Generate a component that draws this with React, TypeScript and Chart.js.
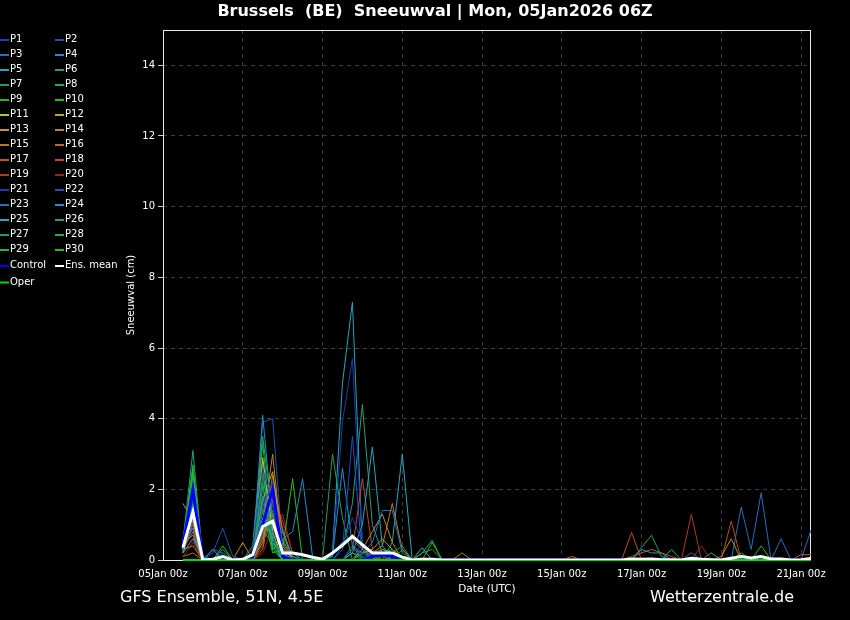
import { useEffect, useRef } from "react";
import { Chart, registerables } from "chart.js";

Chart.register(...registerables);

const TITLE = "Brussels  (BE)  Sneeuwval | Mon, 05Jan2026 06Z";
const FOOT_LEFT = "GFS Ensemble, 51N, 4.5E";
const FOOT_RIGHT = "Wetterzentrale.de";
const X_TITLE = "Date (UTC)";
const Y_TITLE = "Sneeuwval (cm)";

// x positions are 6-hour steps counted from 05Jan 00z; data start at 05Jan 12z
const FIRST_STEP = 2;
const X_MAX = 65;
const Y_MAX = 15;
const xTickSteps = [0, 8, 16, 24, 32, 40, 48, 56, 64];
const xTickLabels = [
  "05Jan 00z", "07Jan 00z", "09Jan 00z", "11Jan 00z", "13Jan 00z",
  "15Jan 00z", "17Jan 00z", "19Jan 00z", "21Jan 00z",
];
const yTickValues = [0, 2, 4, 6, 8, 10, 12, 14];

const P1 = [
  0.5,1.8,0,0,0.2,0,0,0.3,2.6,1.5,0.3,0,0,0,0,0,
  0.4,1.2,0.5,0.1,0.2,0.1,0,0,0,0,0,0,0,0,0,0,
  0,0,0,0,0,0,0,0,0,0,0,0,0,0,0,0,
  0,0,0,0,0,0,0,0,0,0,0,0,0,0,0,0];
const P2 = [
  0.3,1.2,0,0.2,0.9,0.1,0,0,1.5,2.2,0.1,0,0,0,0,0,
  0.3,3.5,0,0.2,0,0,0,0,0,0,0,0,0,0,0,0,
  0,0,0,0,0,0,0,0,0,0,0,0,0,0,0,0,
  0,0,0,0,0,0,0,0,0,0,0,0,0,0,0,0];
const P3 = [
  0.4,0.9,0,0,0,0,0,0,0.8,1.6,0.5,0.2,0,0,0,0,
  0,0.3,0.2,0.5,1.4,1.4,0.2,0,0,0,0,0,0,0,0,0,
  0,0,0,0,0,0,0,0,0,0,0,0,0,0,0,0,
  0,0,0,0.2,0,0,0,0,0,0,0,0,0,0,0,0];
const P4 = [
  0.2,0.6,0.1,0,0,0,0,0.2,4.1,1.0,0.3,0.1,0,0,0,0.1,
  2.6,0.4,0,0,0,0.1,0,0,0,0,0,0,0,0,0,0,
  0,0,0,0,0,0,0,0,0,0,0,0,0,0,0,0,
  0,0,0,0,0,0,0,0,0,0,0,0,0,0,0,0];
const P5 = [
  0.3,1.5,0,0.3,0,0,0,0,1.2,0.6,0.8,0.1,0,0,0,0,
  0,0.2,1.0,3.2,0.4,0.1,0,0,0.35,0,0,0,0,0,0,0,
  0,0,0,0,0,0,0,0,0,0,0,0,0,0,0,0,
  0,0,0,0,0,0,0,0,0,0,0,0,0,0,0,0];
const P6 = [
  0.5,3.1,0,0,0.1,0,0,0,1.8,0.5,0.2,0,0,0,0,0,
  0,0.2,0.1,0,0,0,0,0,0,0,0,0,0,0,0,0,
  0,0,0,0,0,0,0,0,0,0,0,0,0,0,0,0,
  0,0,0,0,0,0,0,0,0,0,0,0,0,0,0,0];
const P7 = [
  0.2,2.1,0,0,0,0,0,0,2.4,0.7,0,0,0,0,0,3.0,
  1.2,0,0,0,0,0,0,0,0,0,0,0,0,0,0,0,
  0,0,0,0,0,0,0,0,0,0,0,0,0,0,0.35,0.7,
  0.1,0,0,0,0,0,0,0,0,0,0,0,0,0,0,0];
const P8 = [
  0.3,1.6,0,0,0,0,0,0.4,3.5,1.2,0.3,0,0,0,0,0,
  0,0,0,0.2,0.3,0.2,0.1,0,0,0,0,0,0,0,0,0,
  0,0,0,0,0,0,0,0,0,0,0,0,0,0,0,0,
  0,0.3,0,0,0,0,0,0,0,0,0,0,0,0,0,0];
const P9 = [
  0.4,2.4,0,0,0.3,0,0,0,2.6,0.3,0,0,0,0,0,0,
  0,0,0,0,0.2,0.3,0.1,0,0.2,0.55,0,0,0,0,0,0,
  0,0,0,0,0,0,0,0,0,0,0,0,0,0,0,0,
  0,0,0,0,0,0,0,0,0.2,0,0.4,0,0,0,0,0];
const P10 = [
  0.3,2.6,0,0,0,0,0,0,1.4,0.2,0.3,2.3,0,0,0,0,
  0,0,0.3,0.1,0,0,0,0,0,0,0,0,0,0,0,0,
  0,0,0,0,0,0,0,0,0,0,0,0,0,0,0,0,
  0,0,0,0,0,0,0,0,0,0,0,0,0,0,0,0];
const P11 = [
  0.2,1.3,0,0,0,0,0,0,2.9,0.8,0,0,0,0,0,0,
  0,0,0,0,0,0,0,0,0,0,0,0,0,0,0,0,
  0,0,0,0,0,0,0,0,0,0,0,0,0,0,0,0,
  0,0,0,0,0,0,0,0,0,0,0,0,0,0,0,0];
const P12 = [
  0.4,0.9,0,0,0.1,0,0,0.1,1.7,2.5,0.2,0,0,0,0,0,
  0,0,0,0.1,0.2,0,0,0,0,0,0,0,0,0,0,0,
  0,0,0,0,0,0,0,0,0,0,0,0,0,0,0,0,
  0,0,0,0,0,0,0,0,0,0,0,0,0,0,0,0];
const P13 = [
  1.6,1.1,0,0,0,0,0,0,0.5,1.9,0.4,0,0,0,0,0,
  0,0,0.2,0.3,0.6,0.3,0,0,0,0,0,0,0,0,0,0,
  0,0,0,0,0,0,0,0,0,0,0,0,0,0,0,0,
  0,0,0,0,0,0,0,0,0,0,0,0,0,0,0,0];
const P14 = [
  0.5,0.7,0,0,0,0,0.5,0,1.0,3.0,0.2,0,0,0,0,0,
  0,0,0.3,0.8,1.3,0.5,0,0,0,0,0,0,0,0,0,0,
  0,0,0,0,0,0,0,0,0,0,0,0,0,0,0,0,
  0,0,0,0,0,0,0.1,0.6,0,0,0,0,0,0,0,0];
const P15 = [
  0.3,0.4,0,0,0,0,0,0,0.6,2.4,0.8,0,0,0,0,0,
  0,0,0,0.2,0.4,1.6,0.3,0,0,0,0,0,0.2,0,0,0,
  0,0,0,0,0,0,0,0,0,0,0,0,0,0,0,0,
  0,0,0,0,0,0,0,0,0,0,0,0,0,0,0,0];
const P16 = [
  0.1,0.2,0,0,0,0,0,0,0.3,1.7,0.5,0,0,0,0,0,
  0,0,0,0,0.3,0.2,0,0,0,0,0,0,0,0,0,0,
  0,0,0,0,0,0,0,0.1,0,0,0,0,0,0,0,0,
  0,0,0,0,0,0,0,0,0,0,0,0,0,0,0,0];
const P17 = [
  0.2,1.0,0,0,0,0,0,0,0.7,1.3,0.3,0,0,0,0,0,
  0,0,0,0,0.2,0.1,0,0,0,0,0,0,0,0,0,0,
  0,0,0,0,0,0,0,0,0,0,0,0,0,0.1,0.2,0.3,
  0.2,0.1,0,0,0,0,0,0,0,0,0,0,0,0,0.15,0.15];
const P18 = [
  0.3,0.8,0,0,0,0,0,0,1.1,2.2,0.9,0,0,0,0,0,
  0,0.3,2.3,0.3,0,0,0,0,0,0,0,0,0,0,0,0,
  0,0,0,0,0,0,0,0,0,0,0,0,0,0.78,0,0,
  0,0,0,0,0,0,0,1.1,0,0,0,0,0,0,0,0];
const P19 = [
  0.2,0.6,0,0,0,0,0,0,0.4,1.8,1.1,0.2,0,0,0,0,
  0,0,0,0,0.1,0,0,0,0,0,0,0,0,0,0,0,
  0,0,0,0,0,0,0,0,0,0,0,0,0,0,0,0,
  0,0,0,1.3,0,0,0,0,0,0,0,0,0,0,0,0];
const P20 = [
  0.1,0.5,0,0,0,0,0,0,0.2,0.9,1.3,0.2,0,0,0,0,
  0,0,0.5,0,0,0,0,0,0,0,0,0,0,0,0,0,
  0,0,0,0,0,0,0,0,0,0,0,0,0,0,0,0,
  0,0,0,0,0.4,0,0,0,0,0,0,0,0,0,0,0];
const P21 = [
  0.6,1.4,0,0,0,0,0,0,1.9,1.0,0.1,0,0,0,0,0.1,
  3.9,5.7,0.4,0,0,0,0,0,0,0,0,0,0,0,0,0,
  0,0,0,0,0,0,0,0,0,0,0,0,0,0,0,0,
  0,0,0,0,0,0,0,0,0,0,0,0,0,0,0,0];
const P22 = [
  0.4,1.7,0,0.3,0.2,0,0,0,3.9,4.0,0.3,0,0,0,0,0,
  0,0,0,0.2,0,0,0,0,0,0,0,0,0,0,0,0,
  0,0,0,0,0,0,0,0,0,0,0,0,0,0,0,0,
  0,0,0,0,0,0,0,0,0,0,0,0,0,0,0,0];
const P23 = [
  0.3,0.8,0,0,0.2,0,0,0,1.6,0.9,0.2,0,0,0,0,0,
  0,0.4,0.2,0,0,0,0,0,0,0,0,0,0,0,0,0,
  0,0,0,0,0,0,0,0,0,0,0,0,0,0,0,0,
  0,0,0,0,0,0,0,0,1.5,0.3,1.9,0,0.6,0,0,0.85];
const P24 = [
  0.2,1.1,0,0,0,0,0,0,0.9,0.4,0.6,0.8,2.3,0.1,0,0.2,
  0.5,0.6,0.3,0,0,0,0,0,0,0,0,0,0,0,0,0,
  0,0,0,0,0,0,0,0,0,0,0,0,0,0,0.3,0.2,
  0.2,0,0,0,0,0,0,0,0,0,0,0,0,0,0,0];
const P25 = [
  0.4,2.0,0,0,0,0,0,0,2.8,0.6,0,0,0,0,0,0.2,
  5.0,7.3,0.3,0,0,0.5,3.0,0,0,0,0,0,0,0,0,0,
  0,0,0,0,0,0,0,0,0,0,0,0,0,0,0,0,
  0,0,0,0,0,0,0,0,0,0,0,0,0,0,0,0];
const P26 = [
  0.3,2.2,0,0,0,0,0,0,1.5,0.4,0,0,0,0,0,0,
  0.3,1.6,4.4,1.0,0.2,0,0,0,0,0,0,0,0,0,0,0,
  0,0,0,0,0,0,0,0,0,0,0,0,0,0,0,0,
  0,0,0,0,0,0,0,0,0,0,0,0,0,0,0,0];
const P27 = [
  0.3,1.9,0,0,0,0,0,0,2.2,0.3,0,0,0,0,0,0,
  0,0.2,0,0,0.3,0.2,0.4,0,0.2,0.3,0,0,0,0,0,0,
  0,0,0,0,0,0,0,0,0,0,0,0,0,0,0,0,
  0,0,0,0,0,0,0,0,0,0,0,0,0,0,0,0];
const P28 = [
  0.5,2.7,0,0,0.1,0,0,0,3.3,0.5,0,0,0,0,0,0,
  0,0,0,0,0,0,0,0,0,0,0,0,0,0,0,0,
  0,0,0,0,0,0,0,0,0,0,0,0,0,0,0,0,
  0,0,0,0,0,0.2,0,0,0,0,0,0,0,0,0,0];
const P29 = [
  0.2,2.3,0,0,0,0,0,0,0.9,1.4,0,0,0,0,0,0,
  0,0,0,0,0,0,0.3,0,0,0.5,0,0,0,0,0,0,
  0,0,0,0,0,0,0,0,0,0,0,0,0,0,0,0,
  0,0,0,0,0,0,0,0,0,0,0,0,0,0,0,0];
const P30 = [
  0.3,2.5,0,0,0.4,0,0,0,2.1,0.3,0.6,0,0,0,0,0,
  0,0,0,0,0,0,0,0,0,0,0,0,0,0,0,0,
  0,0,0,0,0,0,0,0,0,0,0,0,0,0,0,0,
  0,0,0,0,0,0,0,0,0,0,0,0,0,0,0,0];
const CONTROL = [
  0.4,2.0,0,0,0,0,0,0.1,1.0,2.0,0.1,0,0,0,0,0,
  0,0,0,0.1,0.15,0.1,0,0,0,0,0,0,0,0,0,0,
  0,0,0,0,0,0,0,0,0,0,0,0,0,0,0,0,
  0,0,0,0,0,0,0,0,0,0,0,0,0,0,0,0];
const ENS_MEAN = [
  0.35,1.35,0,0.02,0.1,0,0.02,0.15,0.95,1.1,0.2,0.2,0.15,0.08,0.02,0.2,
  0.42,0.67,0.43,0.2,0.2,0.2,0.08,0,0.02,0.02,0,0,0,0,0,0,
  0,0,0,0,0,0,0,0,0,0,0,0,0,0.03,0.02,0.03,
  0.01,0.01,0,0.05,0.02,0.01,0,0.05,0.1,0.06,0.1,0.03,0.03,0,0.01,0.04];
const OPER = [
  0,0,0,0,0,0,0,0,0,0,0,0,0,0,0,0,
  0,0,0,0,0,0,0,0,0,0,0,0,0,0,0,0,
  0,0,0,0,0,0,0,0,0,0,0,0,0,0,0,0,
  0,0,0,0,0,0,0,0,0,0,0,0,0,0,0,0];

const memberNames = [
  "P1","P2","P3","P4","P5","P6","P7","P8","P9","P10",
  "P11","P12","P13","P14","P15","P16","P17","P18","P19","P20",
  "P21","P22","P23","P24","P25","P26","P27","P28","P29","P30",
];
const memberValues = [
  P1,P2,P3,P4,P5,P6,P7,P8,P9,P10,P11,P12,P13,P14,P15,
  P16,P17,P18,P19,P20,P21,P22,P23,P24,P25,P26,P27,P28,P29,P30,
];
const memberColors = [
  "#2238b8","#2050c0","#2070c0","#2090d0","#20a8c0","#20a080","#20a060","#20b048","#20b828","#20c020",
  "#c0c020","#c0a820","#c09820","#c08820","#c07820","#c06820","#c05820","#c04828","#b03828","#a02020",
  "#2238b8","#2050c0","#2070c0","#2090d0","#20a8c0","#20a080","#20a060","#20b048","#20b828","#20c020",
];
const specialNames = ["Control", "Ens. mean", "Oper"];
const specialValues = [CONTROL, ENS_MEAN, OPER];
const specialColors = ["#0000ff", "#ffffff", "#00e000"];
const specialWidths = [3, 3, 2];

const FONT = '"DejaVu Sans", sans-serif';

const toPoints = (vals: number[]) => vals.map((v, i) => ({ x: FIRST_STEP + i, y: v }));

const overlayPlugin = {
  id: "overlay",
  beforeDatasetsDraw(chart: any) {
    const { ctx, chartArea: a } = chart;
    ctx.save();
    ctx.strokeStyle = "#e8e8e8";
    ctx.lineWidth = 1;
    ctx.strokeRect(a.left + 0.5, a.top + 0.5, a.right - a.left - 1, a.bottom - a.top);
    ctx.restore();
  },
  afterDraw(chart: any) {
    const { ctx } = chart;
    ctx.save();
    ctx.fillStyle = "#ffffff";
    ctx.textBaseline = "middle";
    ctx.textAlign = "center";
    ctx.font = `bold 16px ${FONT}`;
    ctx.fillText(TITLE, 435, 12);
    ctx.textAlign = "left";
    ctx.font = `16px ${FONT}`;
    ctx.fillText(FOOT_LEFT, 120, 598);
    ctx.fillText(FOOT_RIGHT, 650, 598);
    // legend
    const names = [...memberNames, ...specialNames];
    const colors = [...memberColors, ...specialColors];
    ctx.font = `10px ${FONT}`;
    names.forEach((name, i) => {
      const row = Math.floor(i / 2);
      const col = i % 2;
      const y = row < 15 ? 39.5 + row * 15 : 265.5 + (row - 15) * 16.5;
      const x0 = col === 0 ? 0 : 55;
      ctx.strokeStyle = colors[i];
      ctx.lineWidth = 2;
      ctx.beginPath();
      ctx.moveTo(x0, y + 0.5);
      ctx.lineTo(x0 + 9, y + 0.5);
      ctx.stroke();
      ctx.fillStyle = "#ffffff";
      ctx.fillText(name, x0 + 10, y);
    });
    ctx.restore();
  },
};

export default function App() {
  const ref = useRef<HTMLCanvasElement | null>(null);

  useEffect(() => {
    if (!ref.current) return;
    const datasets: any[] = [];
    memberValues.forEach((vals, i) => {
      datasets.push({
        label: memberNames[i],
        data: toPoints(vals),
        borderColor: memberColors[i],
        backgroundColor: memberColors[i],
        borderWidth: 1,
        pointRadius: 0,
        tension: 0,
        order: 3,
      });
    });
    specialValues.forEach((vals, i) => {
      datasets.push({
        label: specialNames[i],
        data: toPoints(vals),
        borderColor: specialColors[i],
        backgroundColor: specialColors[i],
        borderWidth: specialWidths[i],
        pointRadius: 0,
        tension: 0,
        order: i === 1 ? 0 : i === 2 ? 1 : 2,
        clip: i === 2 ? false : undefined,
      });
    });

    const chart = new Chart(ref.current, {
      type: "line",
      data: { datasets },
      options: {
        responsive: false,
        animation: false,
        layout: { padding: { left: 123, right: 39, top: 30, bottom: 20 } },
        plugins: {
          legend: { display: false },
          title: { display: false },
          tooltip: { enabled: false },
        },
        scales: {
          x: {
            type: "linear",
            min: 0,
            max: X_MAX,
            afterFit: (s: any) => { s.height = 40; },
            afterBuildTicks: (s: any) => { s.ticks = xTickSteps.map((value) => ({ value })); },
            ticks: {
              autoSkip: false,
              maxRotation: 0,
              color: "#ffffff",
              font: { family: FONT, size: 10 },
              padding: 4,
              callback: (v: any) => xTickLabels[xTickSteps.indexOf(Number(v))] ?? "",
            },
            grid: { color: "#3c3c3c", lineWidth: 1, tickLength: 4, tickColor: "rgba(0,0,0,0)" },
            border: { display: false, dash: [4, 4] },
            title: { display: true, text: X_TITLE, color: "#ffffff", font: { family: FONT, size: 10.5 }, padding: { top: 2, bottom: 4 } },
          },
          y: {
            type: "linear",
            min: 0,
            max: Y_MAX,
            afterFit: (s: any) => { s.width = 40; },
            afterBuildTicks: (s: any) => { s.ticks = yTickValues.map((value) => ({ value })); },
            ticks: {
              color: "#ffffff",
              font: { family: FONT, size: 10 },
              padding: 3,
            },
            grid: { color: "#3c3c3c", lineWidth: 1, tickLength: 5, tickColor: "#cccccc" },
            border: { display: false, dash: [4, 4] },
            title: { display: true, text: Y_TITLE, color: "#ffffff", font: { family: FONT, size: 10 }, padding: { top: 2, bottom: 2 } },
          },
        },
      },
      plugins: [overlayPlugin],
    });
    return () => chart.destroy();
  }, []);

  return (
    <div style={{ position: "absolute", left: 0, top: 0, width: 850, height: 620, background: "#000000" }}>
      <canvas ref={ref} width={850} height={620} style={{ width: 850, height: 620, display: "block" }} />
    </div>
  );
}
